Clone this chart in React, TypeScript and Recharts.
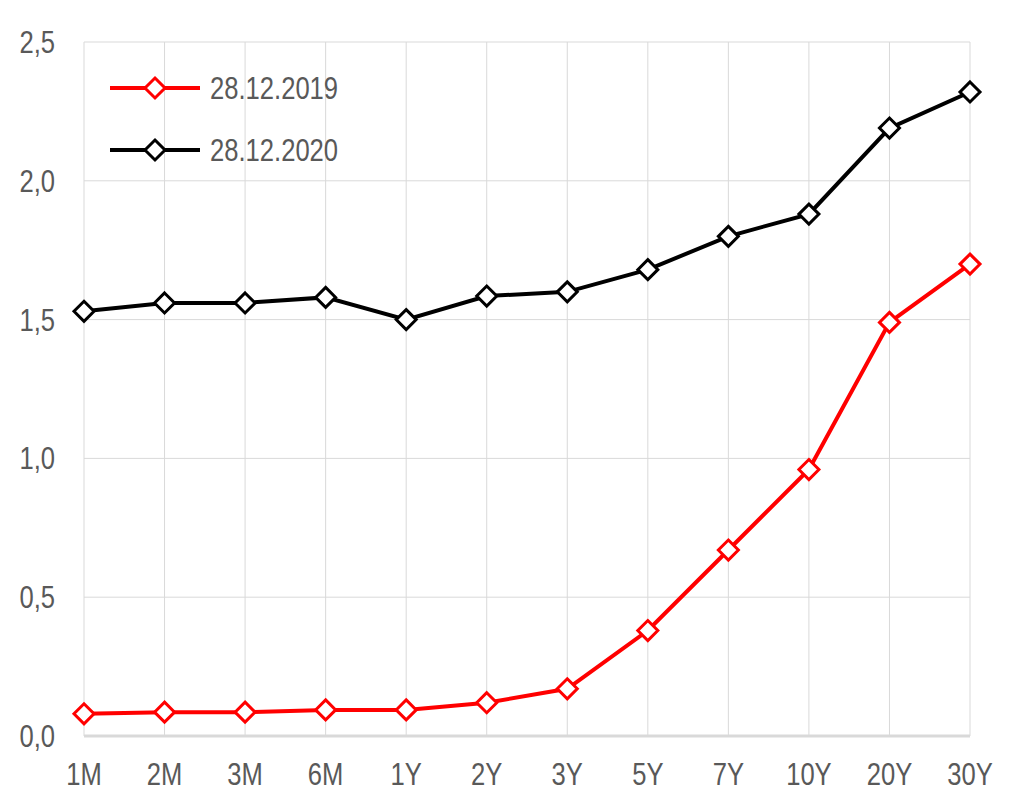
import React from "react";
import {
  CartesianGrid,
  Line,
  LineChart,
  XAxis,
  YAxis,
} from "recharts";

const tenors = ["1M", "2M", "3M", "6M", "1Y", "2Y", "3Y", "5Y", "7Y", "10Y", "20Y", "30Y"];
const curve2019 = [0.08, 0.086, 0.086, 0.094, 0.094, 0.12, 0.17, 0.38, 0.67, 0.96, 1.49, 1.7];
const curve2020 = [1.53, 1.56, 1.56, 1.58, 1.5, 1.585, 1.6, 1.68, 1.8, 1.88, 2.19, 2.32];
const yTicks = [0, 0.5, 1, 1.5, 2, 2.5];

const series = [
  { key: "y2019", name: "28.12.2019", color: "#ff0000" },
  { key: "y2020", name: "28.12.2020", color: "#000000" },
];

const data = tenors.map((t, i) => ({ tenor: t, y2019: curve2019[i], y2020: curve2020[i] }));

// no narrow font installed, so squeeze Liberation Sans horizontally
const FONT = "'Liberation Sans', Arial, sans-serif";
const SQUEEZE = 0.8;
const FONT_SIZE = 32;
const GRID = "#d9d9d9";
const TEXT = "#595959";

function NarrowText({ x, y, anchor, children }: any) {
  return (
    <text
      transform={`translate(${x},${y}) scale(${SQUEEZE},1)`}
      textAnchor={anchor}
      dominantBaseline="central"
      fontSize={FONT_SIZE}
      fontFamily={FONT}
      fill={TEXT}
    >
      {children}
    </text>
  );
}

function YTick(props: any) {
  const { x, y, payload } = props;
  return (
    <NarrowText x={x} y={y} anchor="end">
      {Number(payload.value).toFixed(1).replace(".", ",")}
    </NarrowText>
  );
}

function XTick(props: any) {
  const { x, y, payload } = props;
  return (
    <NarrowText x={x} y={y + 12} anchor="middle">
      {payload.value}
    </NarrowText>
  );
}

function Diamond(props: any) {
  const { cx, cy, stroke } = props;
  if (cx == null || cy == null) return null;
  const r = 10;
  return (
    <polygon
      points={`${cx},${cy - r} ${cx + r},${cy} ${cx},${cy + r} ${cx - r},${cy}`}
      fill="#ffffff"
      stroke={stroke}
      strokeWidth={3}
    />
  );
}

function LegendBox() {
  return (
    <svg width={260} height={110} style={{ display: "block" }}>
      {series.map((s, i) => {
        const y = 18 + i * 62;
        return (
          <g key={s.key}>
            <line x1={2} x2={92} y1={y} y2={y} stroke={s.color} strokeWidth={4} />
            <Diamond cx={47} cy={y} stroke={s.color} />
            <NarrowText x={102} y={y} anchor="start">
              {s.name}
            </NarrowText>
          </g>
        );
      })}
    </svg>
  );
}

export default function App() {
  return (
    <div style={{ position: "absolute", left: 0, top: 0, width: 1009, height: 806, background: "#fff" }}>
      <LineChart
        width={1009}
        height={806}
        data={data}
        margin={{ top: 42, right: 39, bottom: 0, left: 0 }}
      >
        <CartesianGrid stroke={GRID} strokeWidth={1} />
        <XAxis
          dataKey="tenor"
          height={70}
          axisLine={{ stroke: GRID, strokeWidth: 3 }}
          tickLine={false}
          tick={<XTick />}
          tickMargin={20}
          interval={0}
        />
        <YAxis
          width={84}
          domain={[0, 2.5]}
          ticks={yTicks}
          axisLine={false}
          tickLine={false}
          tick={<YTick />}
          tickMargin={23}
        />
        {series.map((s) => (
          <Line
            key={s.key}
            dataKey={s.key}
            name={s.name}
            stroke={s.color}
            strokeWidth={4}
            dot={<Diamond stroke={s.color} />}
            activeDot={false}
            isAnimationActive={false}
          />
        ))}
      </LineChart>
      <div style={{ position: "absolute", left: 108, top: 70 }}>
        <LegendBox />
      </div>
    </div>
  );
}
